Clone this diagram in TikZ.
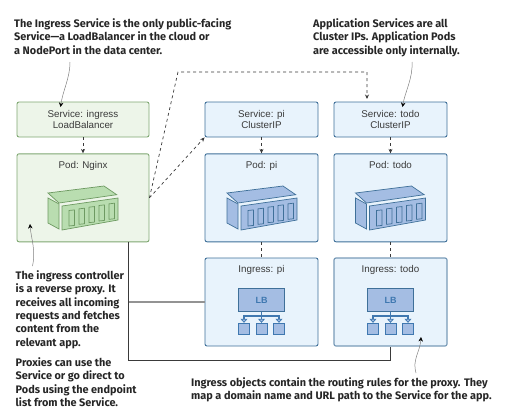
\documentclass[tikz,border=0pt]{standalone}
\usepackage{fontspec}
\setmainfont{Liberation Sans}
\newfontfamily\notefont{Fira Sans}
\usetikzlibrary{arrows.meta,positioning}

\definecolor{greenfill}{HTML}{EDF5E9}
\definecolor{greenline}{HTML}{7FA872}
\definecolor{greenicon}{HTML}{B9DDB0}
\definecolor{greendark}{HTML}{6E9A62}
\definecolor{bluefill}{HTML}{E8F3FC}
\definecolor{blueline}{HTML}{3F7099}
\definecolor{blueicon}{HTML}{A4BDE3}
\definecolor{bluedark}{HTML}{3F78B0}
\definecolor{textgray}{HTML}{3A3A3A}

\tikzset{
    box/.style={draw, rounded corners=2pt, line width=0.9pt, align=center, text=textgray,
        font=\fontsize{9.8}{11.5}\selectfont, inner sep=0pt},
    greenbox/.style={box, draw=greenline, fill=greenfill},
    bluebox/.style={box, draw=blueline, fill=bluefill},
    servicebox/.style={minimum height=35pt},
    podbox/.style={minimum height=88pt},
    boxtitle/.style={text=textgray, font=\fontsize{9.8}{12}\selectfont, inner sep=0pt},
    dashline/.style={dashed, dash pattern=on 3pt off 3pt, line width=0.7pt, color=textgray},
    dasharrow/.style={dashline, -{Stealth[length=4.5pt,width=4pt]}},
    solidline/.style={line width=0.9pt, color=textgray},
    noteline/.style={line width=0.5pt, color=gray, -{Stealth[length=4.5pt,width=4.5pt,color=black]}},
    note/.style={anchor=north west, align=left, inner sep=0pt, text=black!85,
        font=\notefont\bfseries\fontsize{10.9}{13.35}\selectfont},
    lbbox/.style={draw=blueline, fill=blueicon, line width=0.8pt, inner sep=0pt,
        minimum width=46pt, minimum height=23.5pt, text=bluedark,
        font=\bfseries\fontsize{9}{9}\selectfont},
    leafbox/.style={draw=bluedark, fill=blueicon, line width=0.8pt, inner sep=0pt,
        minimum width=11pt, minimum height=11pt},
    lbarrow/.style={line width=1.1pt, color=bluedark,
        -{Triangle[length=4pt,width=7pt,open,fill=blueicon,line width=0.7pt]}},
}

% container: #1,#2 upper left corner, #3 fill, #4 line
\newcommand{\containericon}[4]{
    \begin{scope}[shift={(#1,#2)}, draw=#4, fill=#3, line width=0.7pt]
        \filldraw (0,7) -- (56,0) -- (68.7,8.7) -- (11,17) -- cycle;
        \filldraw (0,12) -- (11,18) -- (11,43) -- (0,37) -- cycle;
        \filldraw (14,20) -- (70,12) -- (70,34) -- (14,44) -- cycle;
        \foreach \i in {0,...,4} {
            \draw ({21+10*\i},{24.5-1.67*\i}) -- ++(5.5,-0.6) -- ++(0,15.5) -- ++(-5.5,0.6) -- cycle;
        }
    \end{scope}
}

% load balancer: #1 name, #2 center x
\newcommand{\lbicon}[2]{
    \node[lbbox] (#1lb) at (#2,300) {LB};
    \node[leafbox] (#1leafa) at (#2-17.5,328.7) {};
    \node[leafbox] (#1leafb) at (#2,328.7) {};
    \node[leafbox] (#1leafc) at (#2+17.5,328.7) {};
    \coordinate (#1bar) at (#2,316);
    \draw[line width=1.1pt, color=bluedark] (#1lb.south) -- (#1bar);
    \foreach \leaf in {a,b,c} {
        \draw[lbarrow] (#1bar) -| (#1leaf\leaf.north);
    }
}

\begin{document}
\begin{tikzpicture}[x=1pt,y=-1pt]
    \useasboundingbox (0,0) rectangle (508,413);

    % services
    \node[greenbox, servicebox, minimum width=132pt] (svcingress) at (83,119.5) {Service: ingress\\LoadBalancer};
    \node[bluebox, servicebox, minimum width=113pt] (svcpi) at (261.5,119.5) {Service: pi\\ClusterIP};
    \node[bluebox, servicebox, minimum width=113pt] (svctodo) at (390.5,119.5) {Service: todo\\ClusterIP};

    % pods
    \node[greenbox, podbox, minimum width=132pt] (podnginx) at (83,197.8) {};
    \node[bluebox, podbox, minimum width=113pt] (podpi) at (261.5,197.8) {};
    \node[bluebox, podbox, minimum width=113pt] (podtodo) at (390.5,197.8) {};
    \node[boxtitle, below=8pt of podnginx.north] (titlenginx) {Pod: Nginx};
    \node[boxtitle, below=8pt of podpi.north] (titlepodpi) {Pod: pi};
    \node[boxtitle, below=8pt of podtodo.north] (titlepodtodo) {Pod: todo};
    \containericon{48}{186}{greenicon}{greendark}
    \containericon{227}{186}{blueicon}{blueline}
    \containericon{355.5}{186}{blueicon}{blueline}

    % ingress objects
    \node[bluebox, podbox, minimum width=113pt] (ingresspi) at (261.5,302) {};
    \node[bluebox, podbox, minimum width=113pt, draw=blueline!70, line width=1.2pt] (ingresstodo) at (390.5,302) {};
    \node[boxtitle, below=8pt of ingresspi.north] (titleingresspi) {Ingress: pi};
    \node[boxtitle, below=8pt of ingresstodo.north] (titleingresstodo) {Ingress: todo};
    \lbicon{pi}{261.5}
    \lbicon{todo}{390.5}

    % dashed links
    \coordinate (bendleft) at (178,72);
    \coordinate (bendright) at (367,72);
    \coordinate (todoentry) at (367,99);
    \draw[dasharrow] (svcingress) -- (podnginx);
    \draw[dasharrow] (svcpi) -- (podpi);
    \draw[dasharrow] (svctodo) -- (podtodo);
    \draw[dashline] (podpi) -- (ingresspi);
    \draw[dashline] (podtodo) -- (ingresstodo);
    \draw[dasharrow] (podnginx.east) -- (svcpi.south west);
    \draw[dasharrow] (podnginx.east) -- (bendleft) -- (bendright) -- (todoentry);

    % solid links
    \coordinate (nginxout) at (128.5,241.8);
    \coordinate (cornerout) at (128.5,360);
    \draw[solidline] (nginxout) -- (cornerout) -| (ingresstodo.south);
    \draw[line width=1.2pt, color=gray!85] (nginxout |- ingresspi) -- (ingresspi.west);

    % notes
    \node[note] (noteingress) at (14,18.5) {The Ingress Service is the only public-facing\\Service—a LoadBalancer in the cloud or\\a NodePort in the data center.};
    \node[note] (noteapps) at (313,18.5) {Application Services are all\\Cluster IPs. Application Pods\\are accessible only internally.};
    \node[note] (notecontroller) at (15.5,270.5) {The ingress controller\\is a reverse proxy. It\\receives all incoming\\requests and fetches\\content from the\\relevant app.};
    \node[note] (noteproxies) at (15.5,357.5) {Proxies can use the\\Service or go direct to\\Pods using the endpoint\\list from the Service.};
    \node[note] (noterules) at (191,377) {Ingress objects contain the routing rules for the proxy. They\\map a domain name and URL path to the Service for the app.};

    % note pointers
    \coordinate (ptringress) at (70,62);
    \coordinate (tipingress) at (60.5,107);
    \coordinate (ptrapps) at (412,62);
    \coordinate (tipapps) at (402.5,107);
    \coordinate (ptrcontroller) at (32.5,266);
    \coordinate (tipcontroller) at (30,224);
    \coordinate (ptrrules) at (416,373);
    \coordinate (tiprules) at (421,337);
    \draw[noteline] (ptringress) .. controls (70,78) and (63,90) .. (tipingress);
    \draw[noteline] (ptrapps) .. controls (413,78) and (405,92) .. (tipapps);
    \draw[noteline] (ptrcontroller) .. controls (36,250) and (31,238) .. (tipcontroller);
    \draw[noteline] (ptrrules) .. controls (412,360) and (420,352) .. (tiprules);
\end{tikzpicture}
\end{document}
